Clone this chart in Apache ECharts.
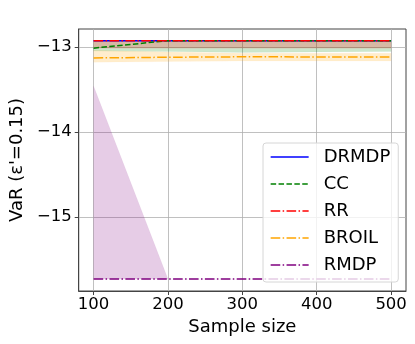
<!DOCTYPE html>
<html><head><meta charset="utf-8">
<script src="https://cdn.jsdelivr.net/npm/echarts@6/dist/echarts.min.js"></script>
<style>html,body{margin:0;padding:0;background:#fff}#c{width:415px;height:344px}</style>
</head><body><div id="c"></div>
<script>
var sampleSizes = [100, 200, 300, 400, 500];
var xTicks = [100, 200, 300, 400, 500];
var yTicks = [-15, -14, -13];
var drmdp = [-12.927, -12.927, -12.927, -12.927, -12.927];
var cc    = [-13.015, -12.927, -12.927, -12.927, -12.927];
var rr    = [-12.927, -12.927, -12.927, -12.927, -12.927];
var broil = [-13.13, -13.122, -13.117, -13.118, -13.12];
var rmdp  = [-15.73, -15.73, -15.73, -15.73, -15.73];
// shaded band bounds
var drmdpLo = [-12.932, -12.932, -12.932, -12.932, -12.932];
var drmdpHi = [-12.927, -12.927, -12.927, -12.927, -12.927];
var ccLo = [-13.05, -13.055, -13.065, -13.06, -13.055];
var ccHi = [-12.927, -12.927, -12.927, -12.927, -12.927];
var rrLo = [-13.015, -13.015, -13.015, -13.015, -13.015];
var rrHi = [-12.927, -12.927, -12.927, -12.927, -12.927];
var broilLo = [-13.18, -13.172, -13.165, -13.165, -13.165];
var broilHi = [-13.04, -13.06, -13.075, -13.075, -13.075];
var rmdpLo = [-15.73, -15.73, -15.73, -15.73, -15.73];
var rmdpHi = [-13.46, -15.73, -15.73, -15.73, -15.73];

var names = ['DRMDP', 'CC', 'RR', 'BROIL', 'RMDP'];
var colors = ['#0000ff', '#008000', '#ff0000', '#ffa500', '#800080'];
var lines = [drmdp, cc, rr, broil, rmdp];
var los = [drmdpLo, ccLo, rrLo, broilLo, rmdpLo];
var his = [drmdpHi, ccHi, rrHi, broilHi, rmdpHi];
var dashDot = [9.6, 2.4, 1.5, 2.4];
var dashes = ['solid', [5.5, 2.4], dashDot, dashDot, dashDot];

function pairs(arr) { return sampleSizes.map(function (x, i) { return [x, arr[i]]; }); }

var series = [];
names.forEach(function (n, k) {
  var lo = los[k], hi = his[k];
  series.push({
    name: n + '_band', type: 'custom', silent: true, z: 1,
    data: sampleSizes.map(function (x, i) { return [x, lo[i], hi[i]]; }),
    encode: { x: 0, y: [1, 2] },
    renderItem: function (params, api) {
      if (params.dataIndex !== 0) return null;
      var pts = [];
      for (var i = 0; i < sampleSizes.length; i++) pts.push(api.coord([sampleSizes[i], hi[i]]));
      for (var j = sampleSizes.length - 1; j >= 0; j--) pts.push(api.coord([sampleSizes[j], lo[j]]));
      return {
        type: 'polygon', shape: { points: pts },
        style: { fill: colors[k], opacity: 0.2, stroke: colors[k], lineWidth: 0.6, strokeOpacity: 0.3 }
      };
    }
  });
});
names.forEach(function (n, k) {
  series.push({
    name: n, type: 'line', data: pairs(lines[k]), symbol: 'none', z: 3,
    lineStyle: { color: colors[k], width: 1.5, type: dashes[k] },
    itemStyle: { color: colors[k] }
  });
});

var font = 'DejaVu Sans';
var chart = echarts.init(document.getElementById('c'), null, { renderer: 'canvas' });
chart.setOption({
  animation: false,
  grid: { left: 73, right: 9, top: 29, bottom: 53, show: true, borderColor: '#444', borderWidth: 1 },
  xAxis: {
    type: 'value', min: 80, max: 520,
    name: 'Sample size', nameLocation: 'middle', nameGap: 24,
    nameTextStyle: { fontFamily: font, fontSize: 18, color: '#000' },
    axisLine: { show: true, lineStyle: { color: '#444' } },
    axisTick: { show: true, customValues: xTicks, length: 4, lineStyle: { color: '#444' } },
    axisLabel: { customValues: xTicks, fontFamily: font, fontSize: 16.5, color: '#000', margin: 5 },
    splitLine: { show: true, lineStyle: { color: '#b0b0b0', width: 0.8 } }
  },
  yAxis: {
    type: 'value', min: -15.87, max: -12.79,
    name: "VaR (ε'=0.15)", nameLocation: 'middle', nameGap: 51,
    nameTextStyle: { fontFamily: font, fontSize: 18, color: '#000' },
    axisLine: { show: true, lineStyle: { color: '#444' } },
    axisTick: { show: true, customValues: yTicks, length: 4, lineStyle: { color: '#444' } },
    axisLabel: { customValues: yTicks, fontFamily: font, fontSize: 16.5, color: '#000', margin: 7,
      formatter: function (v) { return (v < 0 ? '\u2212' : '') + Math.abs(Math.round(v)); } },
    splitLine: { show: true, lineStyle: { color: '#b0b0b0', width: 0.8 } }
  },
  legend: {
    data: names, orient: 'vertical', left: 263, top: 143,
    itemWidth: 38, itemHeight: 18, itemGap: 9,
    padding: [5, 8, 8, 7],
    itemStyle: { opacity: 0 },
    lineStyle: { width: 1.3 },
    backgroundColor: 'rgba(255,255,255,0.8)', borderColor: '#d6d6d6', borderWidth: 1, borderRadius: 3,
    textStyle: { fontFamily: font, fontSize: 18, color: '#000', lineHeight: 18, padding: [0, 0, 0, 10] }
  },
  series: series
});
</script></body></html>
